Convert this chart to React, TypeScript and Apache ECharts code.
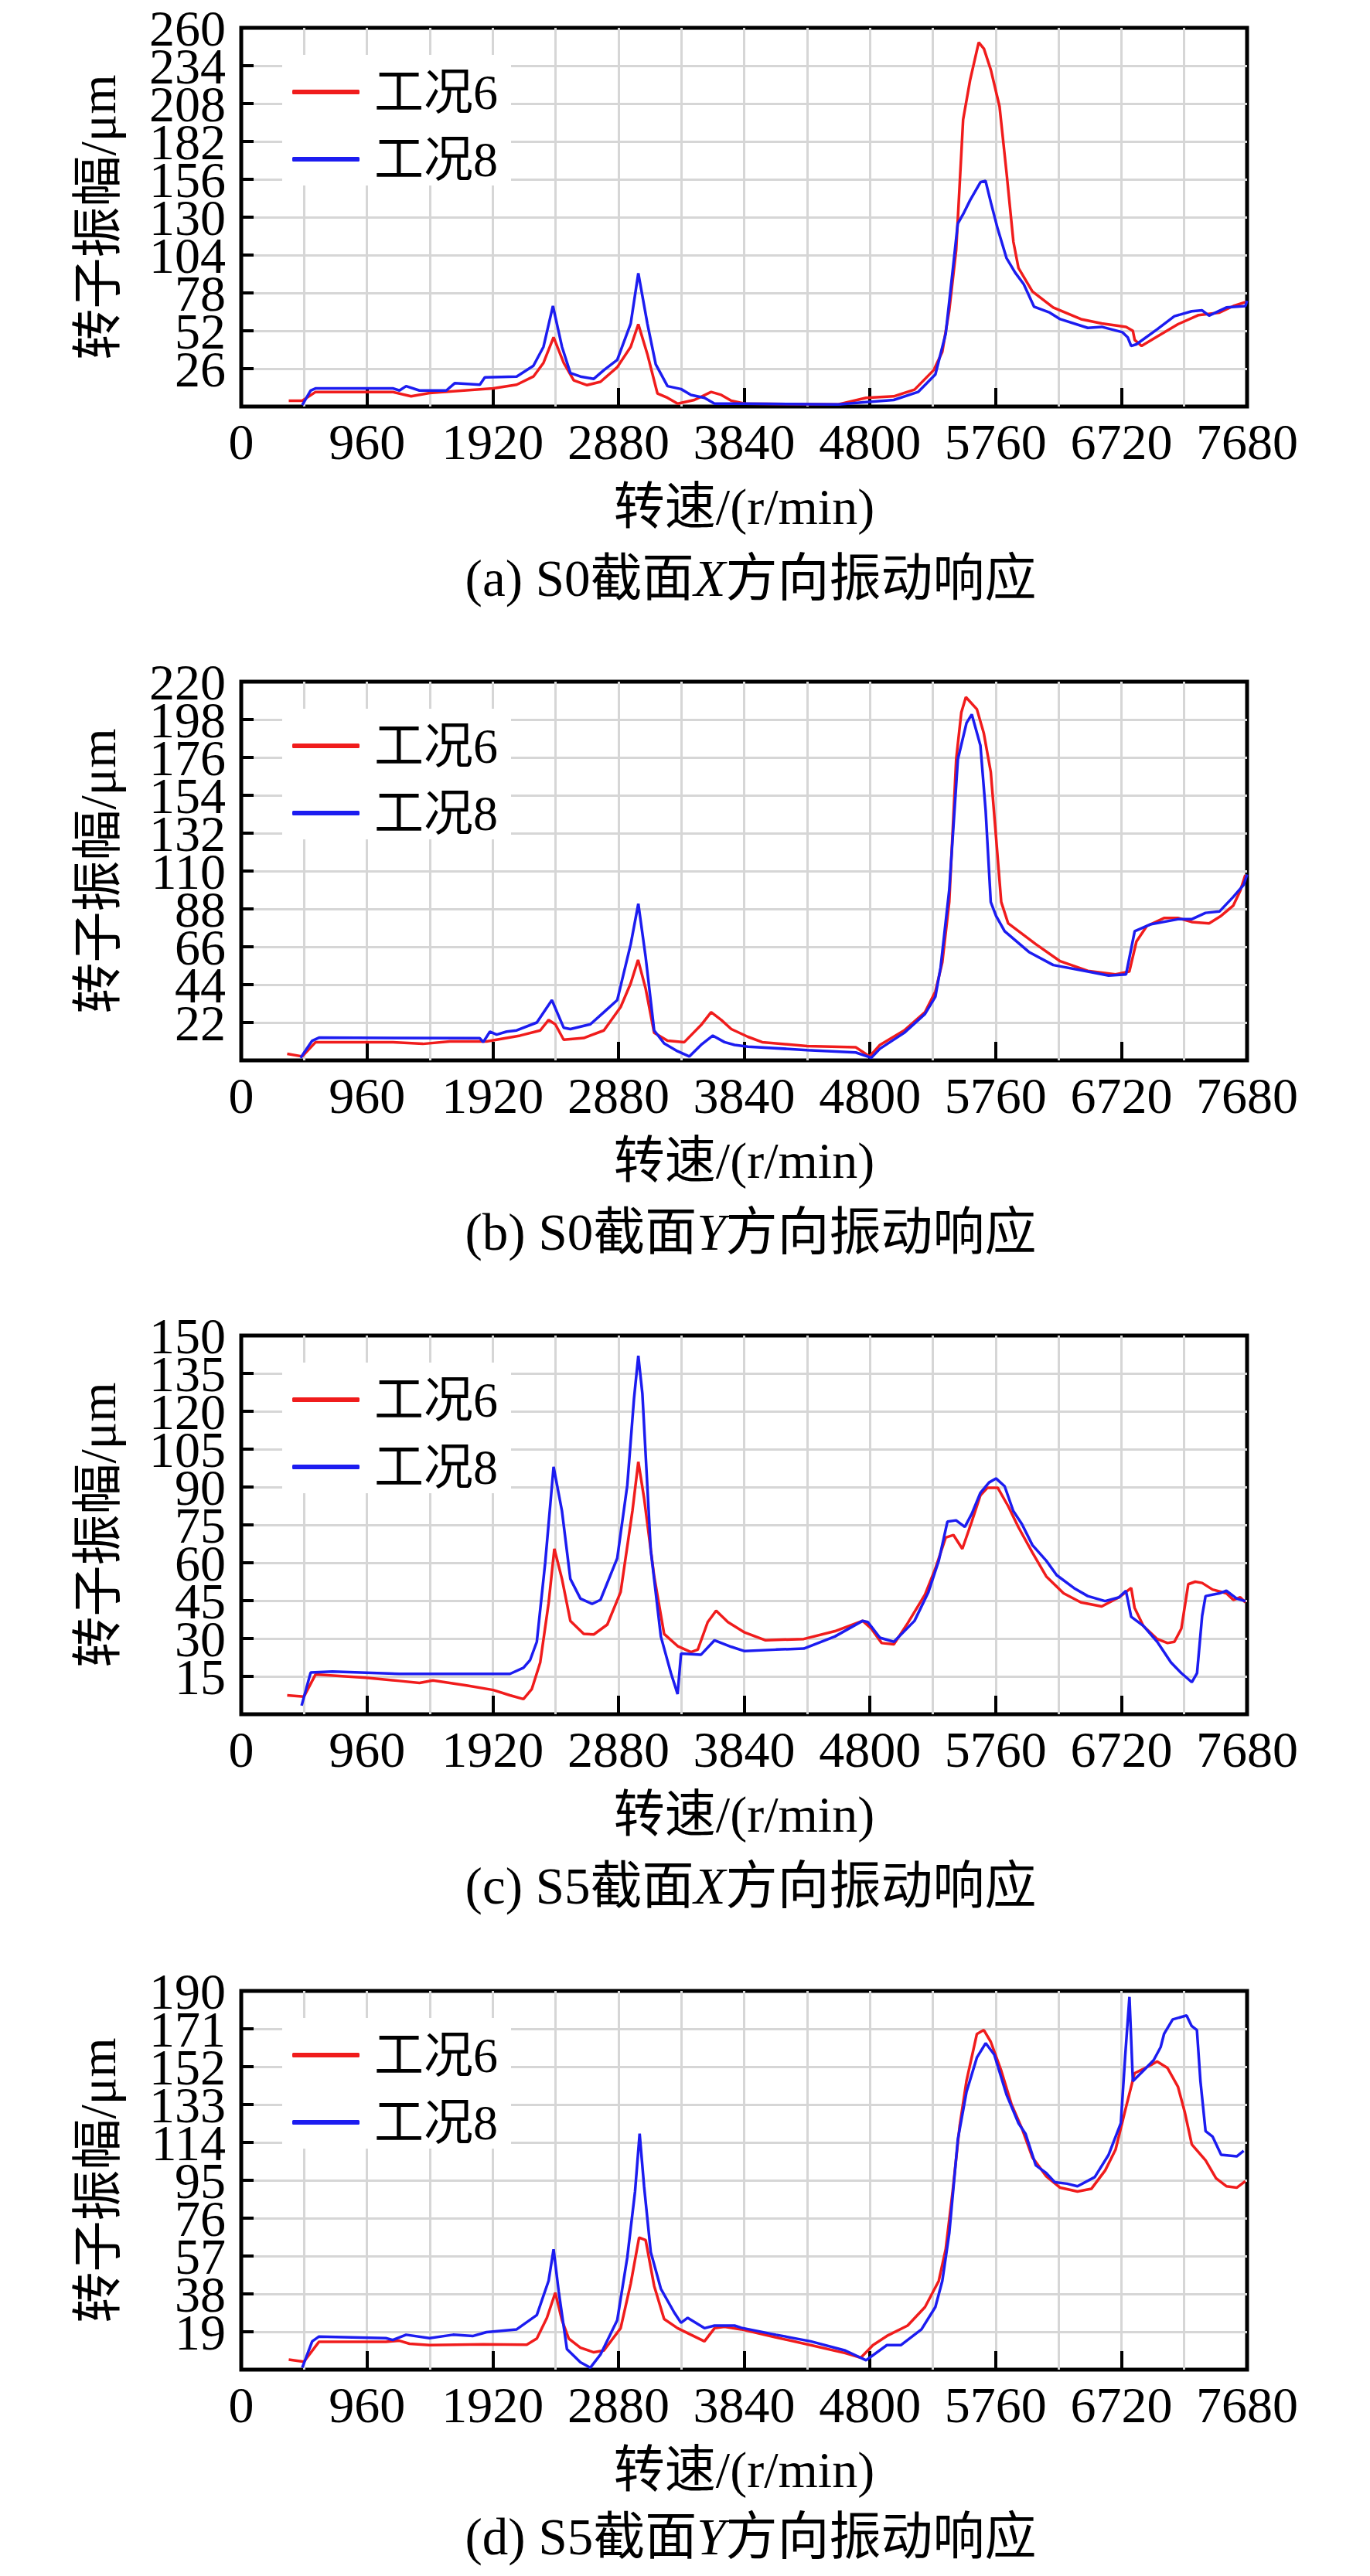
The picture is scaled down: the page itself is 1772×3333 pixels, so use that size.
import React, { useEffect, useRef } from "react";
import * as echarts from "echarts";

// ---------- data (rpm, amplitude µm) ----------
const xTicks = [0, 960, 1920, 2880, 3840, 4800, 5760, 6720, 7680];
const seriesNames = ["工况6", "工况8"];

const s0xCase6 = [[363,4],[466,4],[568,10],[1157,10],[1297,7],[1438,9.3],[1924,12.5],[2103,15],[2231,20.6],[2308,30],[2385,47.5],[2462,30],[2539,18],[2641,14.7],[2743,17],[2871,27],[2974,41],[3032,56.5],[3101,36],[3178,9],[3255,6],[3332,2],[3460,4.5],[3588,10],[3665,8],[3742,4],[3844,2],[4559,1.5],[4771,6],[4982,7],[5141,11.6],[5287,25],[5353,37.6],[5406,66],[5459,107.6],[5512,197],[5565,224],[5631,250],[5671,245.6],[5724,231],[5790,206],[5843,161],[5896,113],[5935,95],[6041,79],[6200,68],[6412,60],[6570,57],[6756,54.7],[6808,52],[6822,45.7],[6875,41.6],[6993,48],[7152,56.5],[7310,62.8],[7469,64.5],[7575,69],[7667,71.7]];
const s0xCase8 = [[466,1],[530,11],[570,12.5],[1157,12.5],[1208,11],[1259,14],[1361,11],[1566,11],[1630,16],[1822,15],[1860,20],[2103,20.6],[2231,28],[2308,41],[2380,69],[2449,41],[2513,23],[2590,20.6],[2692,19],[2769,25],[2871,32],[2974,57],[3032,91.5],[3101,57],[3165,29],[3255,14],[3358,12],[3434,8],[3537,6],[3614,2],[3844,2],[4559,1.5],[4771,3],[4982,4.5],[5168,10],[5300,22],[5379,50],[5432,93],[5471,125.5],[5512,132],[5565,141.6],[5644,154],[5683,155],[5724,140],[5776,122],[5843,102],[5909,92],[5975,84],[6054,68.5],[6173,64.5],[6253,60],[6464,54],[6570,54.7],[6729,51],[6769,47.5],[6795,41.6],[6835,42.7],[6993,53],[7125,62],[7257,65.4],[7337,66],[7390,62.4],[7522,68],[7667,69],[7680,72.6]];

const s0yCase6 = [[351,3.8],[466,2.3],[568,10.6],[1157,10.6],[1387,9.6],[1592,11],[1873,11],[2129,14.4],[2283,17.4],[2347,23.5],[2398,21],[2462,12],[2615,13],[2769,17.4],[2897,31],[2974,44.8],[3030,58.4],[3088,41.7],[3153,16],[3255,11.4],[3383,10.6],[3511,20.5],[3588,28],[3665,23.5],[3742,18.2],[3869,13.7],[3978,10.6],[4321,8.3],[4692,7.6],[4798,2.3],[4877,9],[5062,17.4],[5221,28],[5300,40],[5353,57],[5406,92],[5459,175],[5498,202],[5533,211],[5617,204],[5670,190],[5723,167.6],[5763,130],[5803,92],[5856,79.6],[6067,67.5],[6253,57.6],[6464,52],[6676,50],[6781,51.6],[6835,69],[6914,78],[7046,82.7],[7152,82.7],[7257,80.4],[7390,79.6],[7482,84],[7575,90],[7628,98.6],[7667,107.7]];
const s0yCase8 = [[453,1.5],[542,11.4],[594,13.2],[1822,12.9],[1848,10.6],[1899,16.7],[1950,15],[2027,16.7],[2103,17.4],[2257,22],[2372,35],[2462,19],[2513,18.2],[2666,21],[2769,28],[2871,35],[2974,67.5],[3032,91],[3088,60],[3153,17.4],[3229,9.9],[3332,5.3],[3421,2.3],[3511,9],[3601,14.4],[3690,10.6],[3767,9],[3869,8],[4321,6],[4692,4.6],[4811,1.5],[4877,6.8],[5062,16],[5221,27],[5300,37],[5340,54],[5406,99],[5472,175],[5538,196],[5578,201],[5644,183],[5684,145],[5723,92],[5763,84],[5829,75],[6014,63],[6200,55.4],[6464,51.6],[6623,49.3],[6756,50],[6822,75],[6941,79],[7152,82],[7257,82],[7363,85.7],[7469,86.5],[7575,95],[7654,102],[7680,108]];

const s5xCase6 = [[351,7.5],[479,7],[568,15.8],[952,14.5],[1208,13.2],[1361,12.4],[1464,13.4],[1720,11.4],[1924,9.6],[2052,7.5],[2155,6],[2219,10],[2283,20.5],[2347,44],[2391,65.5],[2449,53.6],[2513,37],[2615,31.8],[2692,31.6],[2795,35.5],[2897,48.4],[2987,80.5],[3032,100],[3076,85.6],[3153,54.6],[3229,31.8],[3332,27],[3434,24.6],[3486,25.6],[3562,36.5],[3626,41],[3716,36.5],[3844,32.4],[4004,29.3],[4295,29.8],[4533,32.9],[4745,37],[4811,33.9],[4890,28.2],[4983,27.7],[5088,36],[5221,47.4],[5300,57.7],[5379,70],[5438,71],[5506,65.5],[5578,76.3],[5644,86.7],[5697,89.7],[5776,89.7],[5855,82.5],[5935,74],[6041,64],[6147,54.6],[6279,47.9],[6411,44.3],[6570,42.7],[6702,46.3],[6795,50],[6821,42.2],[6888,35],[6994,29.8],[7073,28.2],[7125,28.7],[7178,33.9],[7231,51.5],[7284,52.5],[7337,52],[7416,49.4],[7522,47.9],[7575,45.3],[7628,46.3],[7667,44.3]];
const s5xCase8 = [[461,3.4],[530,16.5],[696,16.9],[1208,16],[2052,16],[2155,18.4],[2206,21.5],[2257,28.7],[2321,60],[2385,98],[2449,80.5],[2513,53.6],[2590,45.8],[2679,43.7],[2743,45.3],[2871,61.8],[2948,90.8],[2999,125],[3032,142],[3063,127],[3127,65],[3204,30.8],[3281,16.3],[3332,8],[3358,24],[3511,23.6],[3614,29.3],[3742,26.7],[3844,25],[4083,25.6],[4295,26],[4533,30.8],[4745,37],[4785,36.5],[4877,30.3],[4983,28.7],[5141,37],[5247,48.4],[5326,60.8],[5392,76.3],[5458,76.8],[5525,74.2],[5578,79.4],[5644,87.7],[5710,91.8],[5763,93.4],[5829,90.3],[5895,80.5],[5961,75.3],[6041,67],[6147,60.8],[6226,55.1],[6358,50],[6464,46.8],[6596,44.8],[6702,46.3],[6755,48.9],[6795,38.6],[6888,35],[6994,28.7],[7099,20.5],[7178,16.3],[7258,12.7],[7298,16.3],[7337,39],[7363,46.8],[7469,47.9],[7522,48.9],[7601,45.8],[7667,44.8]];

const s5yCase6 = [[363,5],[479,4],[594,14],[1105,14],[1208,14.5],[1285,13],[1438,12.3],[1848,12.7],[2180,12.5],[2257,15.6],[2334,26],[2398,38.6],[2449,24.8],[2501,15.6],[2590,11],[2692,8.7],[2769,9.6],[2897,20.8],[2974,43.2],[3038,66.3],[3088,65],[3153,42],[3229,25.4],[3332,20.8],[3434,17.5],[3537,14.2],[3614,20.8],[3690,21.5],[3818,20.2],[4083,16.2],[4348,12.3],[4612,8.3],[4731,6],[4824,12.3],[4930,16.9],[5088,22.1],[5221,31.4],[5326,44.5],[5379,60.4],[5432,89.4],[5485,122],[5538,145],[5617,168.4],[5670,170.4],[5723,164.5],[5803,150],[5882,133],[5961,121],[6041,106.5],[6147,97],[6253,91.3],[6385,89.4],[6491,90.7],[6597,100],[6676,110.4],[6755,131.5],[6821,148.7],[6940,152.6],[6993,154.6],[7073,151.3],[7152,142],[7205,129],[7258,113],[7363,105],[7443,96],[7522,92],[7601,91.3],[7667,94.6]];
const s5yCase8 = [[466,1],[542,14.2],[594,16.6],[1105,15.8],[1157,14.9],[1259,17.5],[1438,15.8],[1617,17.5],[1771,16.9],[1873,18.8],[2103,20.2],[2257,27.4],[2347,44.6],[2385,60.4],[2424,39.3],[2487,10.3],[2590,3.7],[2666,1],[2743,7.6],[2871,24.8],[2948,56.4],[3007,89.4],[3042,118.4],[3076,92],[3127,59],[3204,40.6],[3306,28.7],[3358,23.5],[3409,26],[3537,20.8],[3614,22.1],[3767,22.1],[3819,21],[4083,17.5],[4348,14.2],[4612,9.6],[4771,4.7],[4930,12.3],[5036,12.3],[5194,20.2],[5300,31.4],[5353,44.5],[5406,68.3],[5472,115.7],[5538,139.4],[5617,156.6],[5684,163.8],[5750,158],[5843,138],[5935,123.6],[5988,118.4],[6067,102.5],[6147,98.6],[6213,94],[6306,93.3],[6385,92],[6517,96.6],[6623,107.8],[6716,123.6],[6750,158],[6782,187],[6808,144.7],[6888,150],[6967,155.3],[7020,161.8],[7046,168.4],[7112,175.7],[7218,177.7],[7257,172.4],[7297,170.4],[7324,144.7],[7363,119.7],[7416,117],[7482,107.8],[7601,107],[7654,109.8]];

const yMaxes = [260, 220, 150, 190];
const yIntervals = [26, 22, 15, 19];
const captions = [
  ["(a) S0截面", "X", "方向振动响应"],
  ["(b) S0截面", "Y", "方向振动响应"],
  ["(c) S5截面", "X", "方向振动响应"],
  ["(d) S5截面", "Y", "方向振动响应"],
];
const xName = "转速/(r/min)";
const yName = "转子振幅/μm";
const case6Data = [s0xCase6, s0yCase6, s5xCase6, s5yCase6];
const case8Data = [s0xCase8, s0yCase8, s5xCase8, s5yCase8];

// ---------- layout / styles ----------
const W = 1772;
const H = 3333;
const FONT = "'Liberation Serif', 'Times New Roman', 'Noto Sans CJK SC', serif";
const RED = "#f01c1c";
const BLUE = "#1c1cf0";
const GRID_TOPS = [36, 882, 1728, 2576];
const CAPTION_OFFSETS = [712, 712, 712, 706];
const GRID_H = 490;
const GRID_L = 312;
const GRID_R = 159;
const FS = 66;
const GRIDLINE = { color: "#d6d6d6", width: 3 };

function buildOption() {
  const grid: any[] = [];
  const xAxis: any[] = [];
  const yAxis: any[] = [];
  const series: any[] = [];
  const legend: any[] = [];
  const graphic: any[] = [];

  const labelBase = { fontSize: FS, lineHeight: 46, color: "#000", fontFamily: FONT, margin: 20 };

  for (let i = 0; i < 4; i++) {
    const top = GRID_TOPS[i];
    grid.push({
      left: GRID_L,
      right: GRID_R,
      top,
      height: GRID_H,
      show: true,
      borderColor: "#000",
      borderWidth: 5,
      backgroundColor: "transparent",
    });
    xAxis.push({
      type: "value",
      gridIndex: i,
      min: xTicks[0],
      max: xTicks[xTicks.length - 1],
      interval: xTicks[1] - xTicks[0],
      name: xName,
      nameLocation: "middle",
      nameGap: 96,
      nameTextStyle: { fontSize: FS, color: "#000", fontFamily: FONT },
      axisLine: { show: false },
      axisTick: { show: true, inside: true, length: 24, lineStyle: { color: "#000", width: 4 } },
      axisLabel: {
        fontSize: FS,
        color: "#000",
        fontFamily: FONT,
        margin: 12,
        showMinLabel: true,
        showMaxLabel: true,
        formatter: (v: number) => String(v),
      },
      splitLine: { show: true, showMinLine: false, showMaxLine: false, lineStyle: GRIDLINE },
      minorTick: { show: false, splitNumber: 2 },
      minorSplitLine: { show: true, lineStyle: GRIDLINE },
    });
    // main y axis: ticks, grid lines and every label except 0 and the top one
    yAxis.push({
      type: "value",
      gridIndex: i,
      position: "left",
      min: 0,
      max: yMaxes[i],
      interval: yIntervals[i],
      name: yName,
      nameLocation: "middle",
      nameGap: 153,
      nameTextStyle: { fontSize: FS, color: "#000", fontFamily: FONT },
      axisLine: { show: false },
      axisTick: { show: true, inside: true, length: 16, lineStyle: { color: "#000", width: 4 } },
      axisLabel: {
        ...labelBase,
        showMinLabel: false,
        showMaxLabel: false,
        formatter: (v: number) => String(v),
      },
      splitLine: { show: true, showMinLine: false, showMaxLine: false, lineStyle: GRIDLINE },
    });
    // companion y axis on the same grid carrying only the top label
    yAxis.push({
      type: "value",
      gridIndex: i,
      position: "left",
      offset: 0,
      min: 0,
      max: yMaxes[i],
      interval: yMaxes[i],
      axisLine: { show: false },
      axisTick: { show: false },
      splitLine: { show: false },
      axisLabel: {
        ...labelBase,
        showMinLabel: false,
        showMaxLabel: true,
        formatter: (v: number) => (v === 0 ? "" : String(v)),
      },
    });
    series.push({
      type: "line",
      name: seriesNames[0],
      xAxisIndex: i,
      yAxisIndex: i * 2,
      data: case6Data[i],
      symbol: "none",
      showSymbol: false,
      lineStyle: { color: RED, width: 3.5 },
      itemStyle: { color: RED },
      z: 3,
    });
    series.push({
      type: "line",
      name: seriesNames[1],
      xAxisIndex: i,
      yAxisIndex: i * 2,
      data: case8Data[i],
      symbol: "none",
      showSymbol: false,
      lineStyle: { color: BLUE, width: 3.5 },
      itemStyle: { color: BLUE },
      z: 4,
    });
    legend.push({
      data: seriesNames,
      orient: "vertical",
      left: 365,
      top: top + 35,
      padding: [16, 17, 2, 13],
      itemGap: 23,
      itemWidth: 87,
      itemHeight: 6,
      icon: "roundRect",
      backgroundColor: "#fff",
      selectedMode: false,
      textStyle: {
        fontSize: 64,
        lineHeight: 64,
        color: "#000",
        fontFamily: FONT,
        padding: [0, 0, 0, 14],
      },
    });
    const c = captions[i];
    graphic.push({
      type: "text",
      x: 971,
      y: top + CAPTION_OFFSETS[i],
      style: {
        text: `{n|${c[0]}}{i|${c[1]}}{n|${c[2]}}`,
        align: "center",
        verticalAlign: "middle",
        fill: "#000",
        rich: {
          n: { fontSize: 67, fontFamily: FONT, fill: "#000" },
          i: { fontSize: 67, fontFamily: FONT, fontStyle: "italic", fill: "#000" },
        },
      },
    });
  }

  return {
    animation: false,
    backgroundColor: "#fff",
    grid,
    xAxis,
    yAxis,
    series,
    legend,
    graphic,
  };
}

export default function App() {
  const ref = useRef<HTMLDivElement>(null);
  useEffect(() => {
    if (!ref.current) return;
    const chart = echarts.init(ref.current, null, { renderer: "svg" });
    chart.setOption(buildOption());
    return () => chart.dispose();
  }, []);
  return (
    <div
      ref={ref}
      style={{ position: "absolute", left: 0, top: 0, width: W, height: H, background: "#fff" }}
    />
  );
}
